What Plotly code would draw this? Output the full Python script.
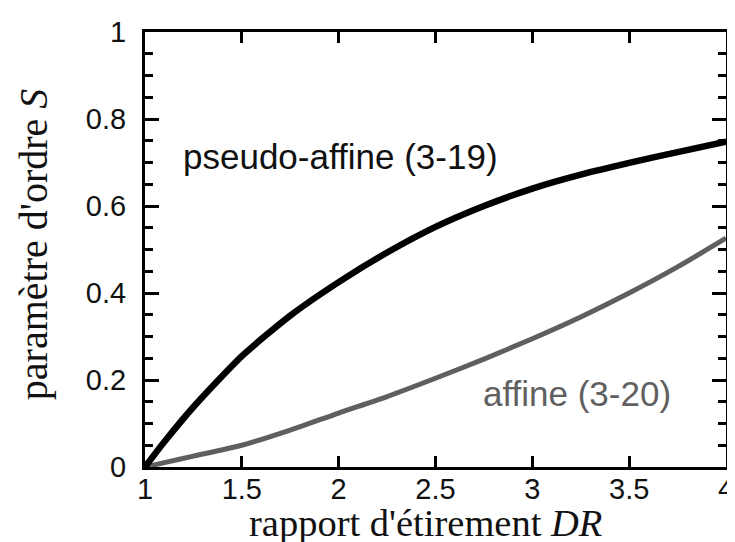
import plotly.graph_objects as go

# Data
dr = [1.0, 1.1, 1.25, 1.5, 1.75, 2.0, 2.25, 2.5, 2.75, 3.0, 3.25, 3.5, 3.75, 4.0]
s_pseudo_affine = [0.0, 0.058, 0.138, 0.255, 0.348, 0.425, 0.493, 0.552, 0.600, 0.640, 0.672, 0.699, 0.724, 0.748]
s_affine = [0.0, 0.010, 0.025, 0.050, 0.085, 0.124, 0.162, 0.204, 0.248, 0.295, 0.345, 0.400, 0.460, 0.526]

x_ticks = [1, 1.5, 2, 2.5, 3, 3.5, 4]
x_tick_labels = ["1", "1.5", "2", "2.5", "3", "3.5", "4"]
y_ticks = [0, 0.2, 0.4, 0.6, 0.8, 1]
y_tick_labels = ["0", "0.2", "0.4", "0.6", "0.8", "1"]

label_pseudo = "pseudo-affine (3-19)"
label_affine = "affine (3-20)"
x_title = "rapport d'étirement <i>DR</i>"
y_title = "paramètre d'ordre <i>S</i>"

fig = go.Figure()
fig.add_trace(go.Scatter(x=dr, y=s_affine, mode="lines",
                         line=dict(color="#5f5f5f", width=5, shape="spline", smoothing=0.6),
                         showlegend=False))
fig.add_trace(go.Scatter(x=dr, y=s_pseudo_affine, mode="lines",
                         line=dict(color="#000000", width=6.5, shape="spline", smoothing=0.6),
                         showlegend=False))

tickfont = dict(family="Liberation Sans, Arial, sans-serif", size=29, color="#111111")

fig.update_xaxes(range=[1, 4], tickvals=x_ticks, ticktext=x_tick_labels,
                 ticks="inside", ticklen=11, tickwidth=3, tickcolor="black",
                 showline=True, linewidth=3, linecolor="black", mirror="ticks",
                 showgrid=False, zeroline=False, tickfont=tickfont,
                 ticklabelstandoff=-6, ticklabeloverflow="allow", automargin=False)
fig.update_yaxes(range=[0, 1], tickvals=y_ticks, ticktext=y_tick_labels,
                 ticks="inside", ticklen=14, tickwidth=3, tickcolor="black",
                 minor=dict(dtick=0.05, ticks="inside", ticklen=8, tickwidth=3, tickcolor="black", showgrid=False),
                 showline=True, linewidth=3, linecolor="black", mirror="ticks",
                 showgrid=False, zeroline=False, tickfont=tickfont,
                 ticklabelstandoff=10, ticklabeloverflow="allow", automargin=False)

fig.add_annotation(x=2.007, y=0.713, text=label_pseudo, showarrow=False,
                   font=dict(family="Liberation Sans, Arial, sans-serif", size=35, color="#111111"))
fig.add_annotation(x=3.23, y=0.17, text=label_affine, showarrow=False,
                   font=dict(family="Liberation Sans, Arial, sans-serif", size=35, color="#606060"))

# axis titles
fig.add_annotation(xref="paper", yref="paper", x=0.482, y=-0.076, xanchor="center", yanchor="top",
                   text=x_title, showarrow=False,
                   font=dict(family="Liberation Serif, Times New Roman, serif", size=38.5, color="#111111"))
fig.add_annotation(xref="paper", yref="paper", x=-0.193, y=0.512, xanchor="center", yanchor="middle",
                   text=y_title, showarrow=False, textangle=-90,
                   font=dict(family="Liberation Serif, Times New Roman, serif", size=40, color="#111111"))

# the page body adds an 8 px offset; figure size and margins compensate so the
# plot area sits where the reference has it and nothing overflows the window
fig.update_layout(width=727, height=534, margin=dict(l=137, r=9, t=24, b=75),
                  plot_bgcolor="white", paper_bgcolor="white")

fig.write_html("out.html")
